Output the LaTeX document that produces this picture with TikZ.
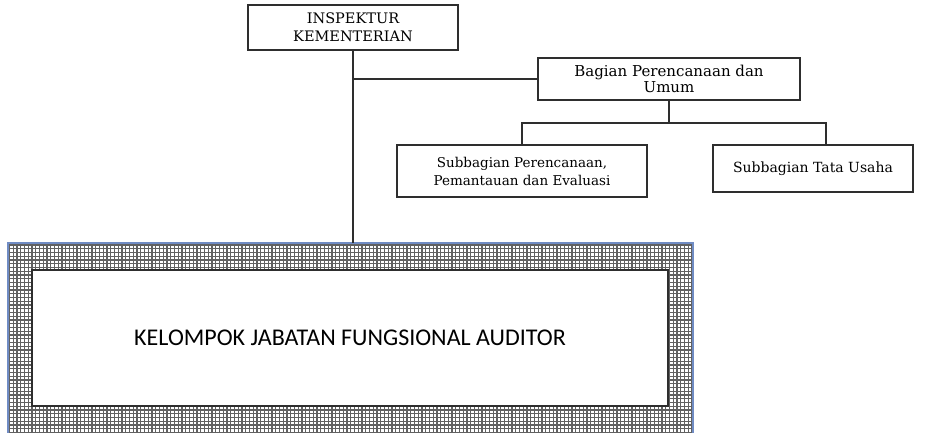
\documentclass[tikz,border=0pt]{standalone}
\usepackage{fontspec}
\setmainfont{DejaVu Serif}
\newfontfamily\labelfont{Carlito}
\begin{document}
\begin{tikzpicture}[x=1pt,y=-1pt,
  orgbox/.style={draw=black!82, line width=1.7pt, fill=white, rectangle,
    align=center, inner sep=0pt},
  link/.style={draw=black!82, line width=1.7pt},
  hatch/.style={draw=black!62, line width=1.25pt}]
\useasboundingbox (0,0) rectangle (934,433);

% top-level units
\node[orgbox, minimum width=210pt, minimum height=45pt,
  font=\fontsize{14.5}{18}\selectfont] (insp) at (353,27.5)
  {INSPEKTUR\\KEMENTERIAN};
\node[orgbox, minimum width=262pt, minimum height=42pt,
  font=\fontsize{15}{16.5}\selectfont] (bagian) at (669,79)
  {Bagian Perencanaan dan\\Umum};
\node[orgbox, minimum width=250pt, minimum height=52pt,
  font=\fontsize{13.5}{18}\selectfont] (subA) at (522,171)
  {Subbagian Perencanaan,\\Pemantauan dan Evaluasi};
\node[orgbox, minimum width=200pt, minimum height=47pt,
  font=\fontsize{14}{18}\selectfont] (subB) at (813,168.5)
  {Subbagian Tata Usaha};

% checkered frame around the auditor group
\begin{scope}
  \clip (8,243) rectangle (693,433);
  \fill[white] (8,243) rectangle (693,433);
  \foreach \gx in {9.5,13.25,...,693} \draw[hatch] (\gx,243) -- (\gx,433);
  \foreach \gy in {245,248.75,...,433} \draw[hatch] (8,\gy) -- (693,\gy);
\end{scope}
\draw[draw={rgb,255:red,112;green,140;blue,196}, line width=1.5pt]
  (8,433) -- (8,243) -- (693,243) -- (693,433);
\node[orgbox, minimum width=636pt, minimum height=136pt,
  font=\labelfont\fontsize{24}{28}\selectfont] (group) at (350,338)
  {KELOMPOK JABATAN FUNGSIONAL AUDITOR};
\coordinate (frame) at (353,243);

% connectors
\draw[link] (insp.south) -- (frame);
\draw[link] (insp.south |- bagian.west) -- (bagian.west);
\draw[link] (bagian.south) -- ++(0,22) coordinate (bus);
\draw[link] (subA.north) |- ([xshift=13pt]subB.north |- bus)
  -- ([xshift=13pt]subB.north);
\end{tikzpicture}
\end{document}
